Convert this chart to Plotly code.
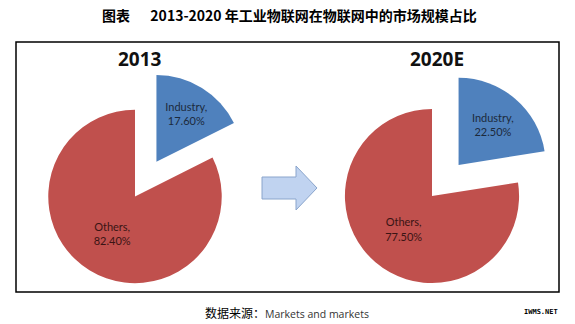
import plotly.graph_objects as go

W, H = 575, 324

# ---- data ----
categories = ["Industry", "Others"]
share_2013 = [17.6, 82.4]
share_2020 = [22.5, 77.5]
pie_titles = ["2013", "2020E"]
chart_title = "图表\u3000\u00a0\u00a02013-2020 年工业物联网在物联网中的市场规模占比"
source_label = "数据来源："
source_text = "Markets and markets"
watermark = "IWMS.NET"

colors = ["#4F81BD", "#C0504D"]
text_colors = ["#1c2a3c", "#3a1414"]
PULL = 0.47

def px_domain(cx, cy, half):
    x0 = (cx - half) / W
    x1 = (cx + half) / W
    y0 = (H - (cy + half)) / H
    y1 = (H - (cy - half)) / H
    return dict(x=[max(0, x0), min(1, x1)], y=[max(0, y0), min(1, y1)])

fig = go.Figure()
centers = [(135, 196.5), (432, 196.0)]
for vals, (cx, cy) in zip([share_2013, share_2020], centers):
    half = H - cy
    texts = [f"{c},<br>{v:.2f}%" for c, v in zip(categories, vals)]
    fig.add_trace(go.Pie(
        labels=categories, values=vals, sort=False, direction="clockwise", rotation=0,
        pull=[PULL, 0], marker=dict(colors=colors, line=dict(width=0)),
        text=texts, textinfo="text", textposition="inside",
        insidetextorientation="horizontal",
        textfont=dict(family="Lato, Open Sans, sans-serif", size=11, color=text_colors),
        hoverinfo="label+percent", showlegend=False,
        domain=px_domain(cx, cy, half),
    ))

annotations = [
    dict(x=289 / W, y=1 - 15 / H, text=f"<b>{chart_title}</b>", showarrow=False,
         xref="paper", yref="paper", xanchor="center", yanchor="middle",
         font=dict(family="Noto Sans CJK SC", size=14, color="#000")),
    dict(x=140 / W, y=1 - 59 / H, text=f"<b>{pie_titles[0]}</b>", showarrow=False,
         xref="paper", yref="paper", xanchor="center", yanchor="middle",
         font=dict(family="Open Sans, sans-serif", size=19, color="#111")),
    dict(x=437 / W, y=1 - 59 / H, text=f"<b>{pie_titles[1]}</b>", showarrow=False,
         xref="paper", yref="paper", xanchor="center", yanchor="middle",
         font=dict(family="Open Sans, sans-serif", size=19, color="#111")),
    dict(x=203 / W, y=1 - 312 / H,
         text=f"<span style='font-family:Noto Sans CJK SC;font-size:12px'>{source_label}</span>"
              f"<span style='font-family:Open Sans;font-size:10.5px;color:#333'>{source_text}</span>",
         showarrow=False, xref="paper", yref="paper", xanchor="left", yanchor="middle",
         font=dict(color="#000")),
    dict(x=541 / W, y=1 - 312 / H, text=f"<b>{watermark}</b>", showarrow=False,
         xref="paper", yref="paper", xanchor="center", yanchor="middle",
         font=dict(family="DejaVu Sans Mono", size=7, color="#000")),
]

def P(x, y):
    return f"{x / W:.4f},{1 - y / H:.4f}"

arrow_path = ("M " + P(262, 177) + " L " + P(296, 177) + " L " + P(296, 166) + " L " +
              P(317, 188) + " L " + P(296, 210) + " L " + P(296, 199) + " L " +
              P(262, 199) + " Z")

shapes = [
    dict(type="rect", xref="paper", yref="paper", x0=16 / W, x1=559 / W,
         y0=1 - 292 / H, y1=1 - 42 / H, line=dict(color="#000", width=1.5), layer="below"),
    dict(type="path", xref="paper", yref="paper", path=arrow_path,
         fillcolor="#c0d3f0", line=dict(color="#8aa5cc", width=1)),
]

fig.update_layout(
    width=W, height=H, margin=dict(l=0, r=0, t=0, b=0),
    paper_bgcolor="white", plot_bgcolor="white",
    annotations=annotations, shapes=shapes,
)

fig.write_html("out.html")
